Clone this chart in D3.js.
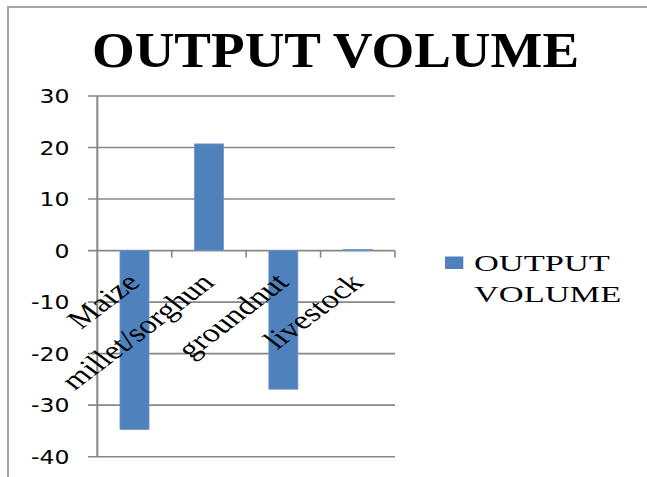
<!DOCTYPE html>
<html>
<head>
<meta charset="utf-8">
<script src="https://cdn.jsdelivr.net/npm/d3@7"></script>
<style>
  html, body { margin: 0; padding: 0; background: #fff; }
  svg { display: block; }
</style>
</head>
<body>
<script>
const categories = ["Maize", "millet/sorghun", "groundnut", "livestock"];
const outputVolume = [-34.7, 20.7, -26.9, 0.2];
const yTicks = [-40, -30, -20, -10, 0, 10, 20, 30];
const seriesName = "OUTPUT VOLUME";
const titleText = "OUTPUT VOLUME";

const W = 647, H = 477;
const svg = d3.select("body").append("svg").attr("width", W).attr("height", H);

// outer frame
svg.append("rect").attr("x", 8).attr("y", 7).attr("width", 800).attr("height", 800)
  .attr("fill", "#fff").attr("stroke", "#a6a6a6").attr("stroke-width", 2);

const x = d3.scaleBand().domain(categories).range([97.3, 395])
  .paddingInner(0.61).paddingOuter(0.305);
const y = d3.scaleLinear().domain([-40, 30]).range([456.7, 96]);

const gridColor = "#878787";

// gridlines with left tick marks
svg.append("g").selectAll("line").data(yTicks).join("line")
  .attr("x1", 88).attr("x2", 395)
  .attr("y1", d => y(d)).attr("y2", d => y(d))
  .attr("stroke", gridColor).attr("stroke-width", 1.6);

// vertical axis
svg.append("line").attr("x1", 97.3).attr("x2", 97.3)
  .attr("y1", y(30)).attr("y2", y(-40))
  .attr("stroke", gridColor).attr("stroke-width", 2);

// category tick marks on the zero line
const catEdges = categories.map(c => x(c) - x.step() * x.paddingInner() / 2).concat([395]);
svg.append("g").selectAll("line").data(catEdges.slice(1)).join("line")
  .attr("x1", d => d).attr("x2", d => d)
  .attr("y1", y(0)).attr("y2", y(0) + 7)
  .attr("stroke", gridColor).attr("stroke-width", 1.6);

// y tick labels
svg.append("g").selectAll("text").data(yTicks).join("text")
  .attr("transform", d => `translate(69.5,${y(d) + 7}) scale(1.24,1)`)
  .attr("text-anchor", "end")
  .attr("font-family", "DejaVu Sans")
  .attr("font-size", 19)
  .attr("fill", "#000")
  .text(d => d);

// bars
svg.append("g").selectAll("rect").data(outputVolume).join("rect")
  .attr("x", (d, i) => x(categories[i]))
  .attr("width", x.bandwidth())
  .attr("y", d => y(Math.max(0, d)))
  .attr("height", d => Math.abs(y(d) - y(0)))
  .attr("fill", "#4F81BD")
  .attr("stroke", "#6d95c8").attr("stroke-width", 0.8);

// category labels (rotated, on top of bars)
svg.append("g").selectAll("text").data(categories).join("text")
  .attr("transform", d => `translate(${x(d) + x.bandwidth() / 2 + 7},284) scale(1.32,1) rotate(-45)`)
  .attr("text-anchor", "end")
  .attr("font-family", "Liberation Serif")
  .attr("font-size", 26)
  .attr("fill", "#000")
  .text(d => d);

// title
svg.append("text")
  .attr("transform", "translate(335.5,66.7) scale(1.1,1)")
  .attr("text-anchor", "middle")
  .attr("font-family", "Liberation Serif")
  .attr("font-weight", "bold")
  .attr("font-size", 50)
  .attr("fill", "#000")
  .text(titleText);

// legend
const lg = svg.append("g");
lg.append("rect").attr("x", 445).attr("y", 256.5).attr("width", 18.3).attr("height", 12.5)
  .attr("fill", "#4F81BD");
const words = seriesName.split(" ");
lg.selectAll("text").data(words).join("text")
  .attr("transform", (d, i) => `translate(474,${271 + i * 30.7}) scale(1.53,1)`)
  .attr("font-family", "Liberation Serif")
  .attr("font-size", 22.5)
  .attr("fill", "#000")
  .text(d => d);
</script>
</body>
</html>
